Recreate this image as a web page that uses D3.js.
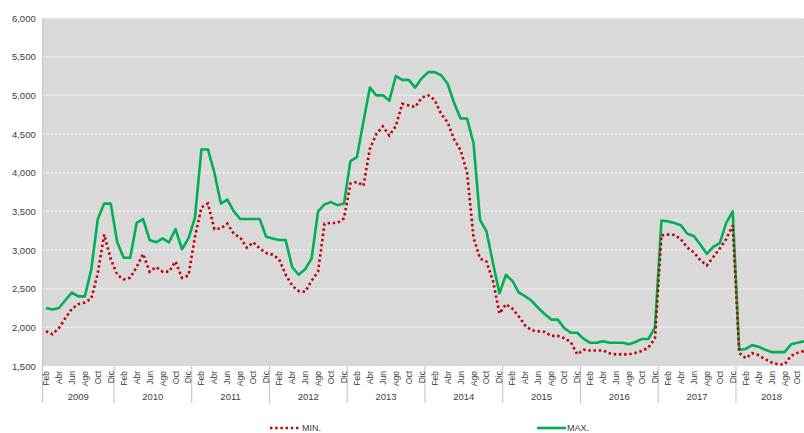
<!DOCTYPE html>
<html>
<head>
<meta charset="utf-8">
<script src="https://cdn.jsdelivr.net/npm/d3@7"></script>
<style>
  html, body { margin: 0; padding: 0; background: #ffffff; }
  svg { display: block; font-family: "Liberation Sans", Arial, sans-serif; }
</style>
</head>
<body>
<svg id="chart" width="804" height="433"></svg>
<script>
// ---- Data ----
const years = [2009, 2010, 2011, 2012, 2013, 2014, 2015, 2016, 2017, 2018];
const monthNames = ["Ene", "Feb", "Mar", "Abr", "May", "Jun", "Jul", "Ago", "Sep", "Oct", "Nov", "Dic"];
const firstMonth = 1;   // Feb 2009
const monthCount = 118; // through Nov 2018

const yTicks = [1500, 2000, 2500, 3000, 3500, 4000, 4500, 5000, 5500, 6000];

const minValues = [
  1950, 1910, 1990, 2120, 2240, 2300, 2320, 2370, 2700, 3200, 2880,
  2680, 2620, 2640, 2780, 2950, 2720, 2780, 2720, 2720, 2850, 2640, 2670,
  3170, 3550, 3600, 3270, 3280, 3340, 3210, 3160, 3030, 3100, 3020, 2960,
  2940, 2880, 2680, 2540, 2470, 2460, 2600, 2720, 3340, 3350, 3350, 3410,
  3860, 3880, 3830, 4310, 4500, 4600, 4480, 4600, 4890, 4870, 4850, 4970,
  5000, 4940, 4760, 4650, 4430, 4290, 4000, 3160, 2890, 2850, 2600, 2180,
  2300, 2240, 2140, 2020, 1960, 1950, 1940, 1890, 1890, 1860, 1810, 1650,
  1710, 1700, 1700, 1700, 1665, 1650, 1650, 1650, 1670, 1695, 1740, 1860,
  3190, 3200, 3195, 3140, 3030, 2970, 2870, 2800, 2910, 3020, 3140, 3320,
  1670, 1600, 1665, 1640, 1590, 1545, 1520, 1520, 1630, 1670, 1695
];
const maxValues = [
  2250, 2230, 2250, 2350, 2450, 2400, 2400, 2750, 3400, 3600, 3600,
  3100, 2900, 2900, 3350, 3400, 3130, 3100, 3150, 3100, 3270, 3010, 3150,
  3420, 4300, 4300, 4000, 3600, 3650, 3500, 3400, 3400, 3400, 3400, 3170,
  3150, 3130, 3130, 2780, 2680, 2750, 2890, 3500, 3590, 3620, 3580, 3600,
  4150, 4200, 4660, 5100, 5000, 5000, 4930, 5250, 5200, 5200, 5100, 5220,
  5300, 5300, 5260, 5150, 4900, 4700, 4700, 4380, 3390, 3240, 2830, 2440,
  2680, 2600, 2450, 2400, 2340, 2250, 2170, 2100, 2100, 1990, 1930, 1930,
  1850, 1800, 1800, 1820, 1800, 1800, 1800, 1780, 1810, 1850, 1850, 2000,
  3380, 3370, 3350, 3320, 3210, 3180, 3070, 2950, 3040, 3090, 3350, 3500,
  1710, 1720, 1770, 1750, 1710, 1680, 1680, 1680, 1780, 1800, 1820
];

const seriesNames = ["MIN.", "MAX."];

// categories built from years x monthNames
const categories = [];
for (let k = 0; k < monthCount; k++) {
  const m = firstMonth + k;
  categories.push({ key: k, year: years[0] + Math.floor(m / 12), month: monthNames[m % 12], monthIdx: m % 12 });
}

// ---- Layout ----
const svg = d3.select("#chart");
const plotLeft = 42.7, plotTop = 18, plotBottom = 366;
const monthW = 6.479;
const plotRight = plotLeft + monthW * monthCount;

const x = d3.scaleBand().domain(categories.map(d => d.key)).range([plotLeft, plotRight]).padding(0);
const y = d3.scaleLinear().domain([1500, 6000]).range([plotBottom, plotTop]);
const cx = k => x(k) + x.bandwidth() / 2;

// background
svg.append("rect")
  .attr("x", plotLeft).attr("y", plotTop)
  .attr("width", plotRight - plotLeft).attr("height", plotBottom - plotTop)
  .attr("fill", "#d9d9d9");

// grid lines
svg.append("g").selectAll("line")
  .data(yTicks.filter(v => v > 1500))
  .join("line")
  .attr("x1", plotLeft).attr("x2", plotRight)
  .attr("y1", d => y(d)).attr("y2", d => y(d))
  .attr("stroke", "#ffffff").attr("stroke-width", 1)
  .attr("stroke-dasharray", "2,2");

// Y axis
const yAxis = d3.axisLeft(y).tickValues(yTicks).tickFormat(d3.format(",")).tickSize(0).tickPadding(7);
const yg = svg.append("g").attr("transform", `translate(${plotLeft},0)`).call(yAxis);
yg.select(".domain").remove();
yg.selectAll("text").attr("fill", "#404040").attr("font-size", "9.5px")
  .attr("font-family", "'Liberation Sans', Arial, sans-serif");

// left border + year separators
const sepKeys = categories.filter(d => d.monthIdx === 0).map(d => d.key);
svg.append("line")
  .attr("x1", plotLeft).attr("x2", plotLeft)
  .attr("y1", plotTop).attr("y2", 403)
  .attr("stroke", "#bfbfbf").attr("stroke-width", 1);
svg.append("g").selectAll("line")
  .data(sepKeys)
  .join("line")
  .attr("x1", d => x(d)).attr("x2", d => x(d))
  .attr("y1", plotBottom).attr("y2", 403)
  .attr("stroke", "#bfbfbf").attr("stroke-width", 1);

// month labels
const xAxis = d3.axisBottom(x)
  .tickValues(categories.filter(d => d.key % 2 === 0).map(d => d.key))
  .tickFormat(k => categories[k].month)
  .tickSize(0);
const xg = svg.append("g").attr("transform", `translate(0,${plotBottom})`).call(xAxis);
xg.select(".domain").remove();
xg.selectAll("text")
  .attr("fill", "#404040").attr("font-size", "8.5px")
  .attr("font-family", "'Liberation Sans', Arial, sans-serif")
  .attr("text-anchor", "end")
  .attr("dy", "0.35em")
  .attr("transform", "translate(0,5) rotate(-90)")
  .attr("x", 0).attr("y", 0);

// year labels
const yearGroups = d3.groups(categories, d => d.year);
svg.append("g").selectAll("text")
  .data(yearGroups)
  .join("text")
  .attr("x", d => (x(d[1][0].key) + x(d[1][d[1].length - 1].key) + x.bandwidth()) / 2)
  .attr("y", 400)
  .attr("text-anchor", "middle")
  .attr("fill", "#404040").attr("font-size", "9.5px")
  .text(d => d[0]);

// lines
const lineGen = d3.line().x((d, i) => cx(i)).y(d => y(d));
svg.append("path").datum(maxValues)
  .attr("d", lineGen).attr("fill", "none")
  .attr("stroke", "#00b050").attr("stroke-width", 2.6)
  .attr("stroke-linejoin", "round");
svg.append("path").datum(minValues)
  .attr("d", lineGen).attr("fill", "none")
  .attr("stroke", "#c00000").attr("stroke-width", 2.6)
  .attr("stroke-dasharray", "2.4,2.8");

// legend
const lg = svg.append("g");
lg.append("line").attr("x1", 270).attr("x2", 299).attr("y1", 428).attr("y2", 428)
  .attr("stroke", "#c00000").attr("stroke-width", 2.6).attr("stroke-dasharray", "2.4,2.8");
lg.append("text").attr("x", 302).attr("y", 431).attr("fill", "#404040").attr("font-size", "9px").text(seriesNames[0]);
lg.append("line").attr("x1", 537).attr("x2", 566).attr("y1", 428).attr("y2", 428)
  .attr("stroke", "#00b050").attr("stroke-width", 2.6);
lg.append("text").attr("x", 567).attr("y", 431).attr("fill", "#404040").attr("font-size", "9px").text(seriesNames[1]);
</script>
</body>
</html>
